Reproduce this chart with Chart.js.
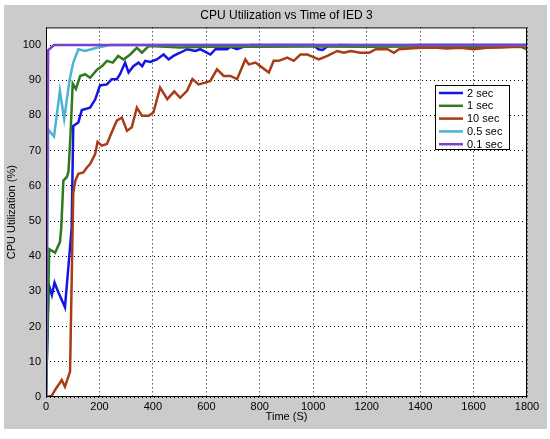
<!DOCTYPE html>
<html>
<head>
<meta charset="utf-8">
<title>CPU Utilization vs Time of IED 3</title>
<script src="https://cdn.jsdelivr.net/npm/chart.js@4.4.1/dist/chart.umd.min.js"></script>
<style>
  html, body { margin: 0; padding: 0; background: #ffffff; }
  canvas { display: block; }
</style>
</head>
<body>
<canvas id="cpuChart" width="550" height="439"></canvas>
<script>
// ── Axis ticks ────────────────────────────────────────
const X_TICKS = [0, 200, 400, 600, 800, 1000, 1200, 1400, 1600, 1800];
const Y_TICKS = [0, 10, 20, 30, 40, 50, 60, 70, 80, 90, 100];

// ── Series: 2 sec ─────────────────────────────────────
const T_2S = [0, 10, 22, 32, 45, 71, 96, 102, 121, 134, 165, 184, 202, 228, 246, 265, 277, 296, 309, 327, 346,
  360, 371, 390, 415, 440, 459, 477, 502, 528, 559, 577, 615, 634, 678, 690, 715, 746, 765, 900, 1000, 1020,
  1035, 1055, 1100, 1250, 1400, 1600, 1800];
const U_2S = [0, 32, 29, 32.5, 30, 25.5, 48, 77, 78, 81.5, 82.2, 84.5, 88.5, 88.8, 90.3, 90.3, 91.7, 95, 92.2, 94, 95,
  94, 95.5, 95.2, 95.9, 97.3, 95.9, 96.9, 97.8, 98.8, 98.3, 98.8, 97.3, 98.8, 98.8, 99.5, 98.8, 99.7, 100, 100, 100, 98.8,
  98.6, 99.7, 100, 99.8, 100, 100, 100];

// ── Series: 1 sec ─────────────────────────────────────
const T_1S = [0, 12, 34, 52, 57, 65, 78, 84, 92, 100, 112, 128, 146, 165, 191, 210, 228, 250, 270, 290, 315,
  340, 359, 384, 450, 500, 600, 700, 800, 1000, 1200, 1400, 1600, 1780, 1800];
const U_1S = [0, 42, 41, 44, 48, 61.5, 62.5, 64, 75, 89, 87.5, 91.2, 91.7, 90.7, 93, 94, 95.5, 95, 96.9, 95.9, 97.3,
  99.2, 97.8, 99.7, 99.5, 99.3, 99.5, 99.6, 99.5, 99.6, 99.5, 99.6, 99.5, 99.4, 98.8];

// ── Series: 10 sec ────────────────────────────────────
const T_10S = [0, 21, 34, 59, 71, 90, 102, 110, 121, 140, 153, 165, 184, 193, 209, 228, 246, 265, 284, 303, 321,
  340, 359, 384, 402, 427, 454, 480, 502, 528, 548, 571, 596, 615, 640, 665, 690, 715, 746, 759, 784, 802, 834,
  852, 871, 903, 927, 952, 978, 990, 1021, 1053, 1090, 1115, 1140, 1177, 1209, 1234, 1278, 1302, 1321, 1360,
  1400, 1450, 1500, 1550, 1600, 1650, 1700, 1750, 1780, 1800];
const U_10S = [0, 0.3, 2, 4.8, 2.9, 7.2, 58, 61.5, 63.4, 63.8, 65.2, 66.2, 69, 72.5, 71.4, 71.9, 75.2, 78.5, 79.4, 75.6, 76.6,
  82.2, 79.9, 79.9, 80.8, 87.9, 84.6, 86.8, 85, 87, 90.3, 88.8, 89.3, 89.8, 93.1, 91.2, 91.2, 90.3, 95.9, 94.5, 95, 94, 92.2,
  95.5, 95.5, 96.4, 95.5, 97.3, 97.3, 96.9, 95.9, 96.9, 98.3, 97.8, 98.3, 97.8, 97.8, 98.8, 98.8, 97.8, 98.8, 99,
  99.2, 99.3, 99, 99.2, 98.8, 99.2, 99.3, 99.5, 99.8, 98.8];

// ── Series: 0.5 sec ───────────────────────────────────
const T_05S = [0, 8, 30, 52, 68, 88, 102, 121, 146, 190, 240, 600, 1000, 1400, 1800];
const U_05S = [0, 76, 74, 87, 79, 90, 95, 98.8, 98.3, 99.2, 100, 100, 100, 100, 100];

// ── Series: 0.1 sec ───────────────────────────────────
const T_01S = [0, 8, 30, 600, 1200, 1800];
const U_01S = [0, 98.5, 100, 100, 100, 100];

// ── Colours ───────────────────────────────────────────
const COLORS = {
  blue:   '#1414e6',
  green:  '#2e7a1c',
  red:    '#a83c14',
  cyan:   '#4cb4d2',
  purple: '#7c40cc',
  fig:    '#cbcbcb',
};

function toPoints(ts, us) {
  return ts.map((t, i) => ({ x: t, y: us[i] }));
}

function series(label, ts, us, color, order) {
  return {
    label,
    data: toPoints(ts, us),
    borderColor: color,
    backgroundColor: color,
    borderWidth: 2.5,
    pointRadius: 0,
    tension: 0,
    fill: false,
    order,
  };
}

// ── Figure background + axes frame ────────────────────
const figurePlugin = {
  id: 'figure',
  beforeDraw(chart) {
    const { ctx, chartArea: a } = chart;
    ctx.save();
    ctx.fillStyle = '#ffffff';
    ctx.fillRect(0, 0, chart.width, chart.height);
    ctx.fillStyle = COLORS.fig;
    ctx.fillRect(4, 5, 543, 424);
    ctx.fillStyle = '#ffffff';
    ctx.fillRect(a.left, a.top, a.right - a.left, a.bottom - a.top);
    ctx.restore();
  },
  afterDatasetsDraw(chart) {
    const { ctx, chartArea: a } = chart;
    ctx.save();
    ctx.strokeStyle = '#000000';
    ctx.lineWidth = 1;
    ctx.strokeRect(a.left + 0.5, a.top + 0.5, a.right - a.left - 1, a.bottom - a.top - 1);
    ctx.restore();
  },
};

// ── Boxed legend inside the axes ──────────────────────
const boxLegendPlugin = {
  id: 'boxLegend',
  afterDraw(chart) {
    const { ctx } = chart;
    const x = 435, y = 85, w = 74, h = 64, rowH = 12.8;
    ctx.save();
    ctx.fillStyle = '#ffffff';
    ctx.fillRect(x, y, w, h);
    ctx.strokeStyle = '#000000';
    ctx.lineWidth = 1;
    ctx.strokeRect(x + 0.5, y + 0.5, w, h);
    ctx.font = "11px 'Liberation Sans', Arial, sans-serif";
    ctx.textBaseline = 'middle';
    chart.data.datasets.forEach((ds, i) => {
      const ly = y + 8 + i * rowH;
      ctx.strokeStyle = ds.borderColor;
      ctx.lineWidth = 2.5;
      ctx.beginPath();
      ctx.moveTo(x + 4, ly);
      ctx.lineTo(x + 28, ly);
      ctx.stroke();
      ctx.fillStyle = '#000000';
      ctx.fillText(ds.label, x + 32, ly + 0.5);
    });
    ctx.restore();
  },
};

const FONT = { family: "'Liberation Sans', Arial, sans-serif", size: 11 };

new Chart(document.getElementById('cpuChart'), {
  type: 'line',
  data: {
    datasets: [
      series('2 sec',   T_2S,  U_2S,  COLORS.blue,   4),
      series('1 sec',   T_1S,  U_1S,  COLORS.green,  3),
      series('10 sec',  T_10S, U_10S, COLORS.red,    2),
      series('0.5 sec', T_05S, U_05S, COLORS.cyan,   1),
      series('0.1 sec', T_01S, U_01S, COLORS.purple, 0),
    ],
  },
  options: {
    responsive: false,
    animation: false,
    layout: { padding: { left: 4, right: 23, top: 0, bottom: 15 } },
    plugins: {
      legend: { display: false },
      tooltip: { enabled: false },
      title: {
        display: true,
        text: 'CPU Utilization vs Time of IED 3',
        fullSize: false,
        color: '#000000',
        font: { ...FONT, size: 12, weight: 'normal' },
        padding: { top: 8, bottom: 5 },
      },
    },
    scales: {
      x: {
        type: 'linear',
        min: 0,
        max: 1800,
        afterBuildTicks: (s) => { s.ticks = X_TICKS.map(v => ({ value: v })); },
        afterFit: (s) => { s.height = 27; },
        ticks: { color: '#000000', font: FONT, padding: 3, maxRotation: 0, callback: (v) => String(v) },
        grid: { color: '#000000', lineWidth: 1, drawTicks: false },
        border: { display: false, dash: [1, 3] },
        title: { display: true, text: 'Time (S)', color: '#000000', font: FONT, padding: { top: 0, bottom: 0 } },
      },
      y: {
        min: 0,
        max: 105,
        afterBuildTicks: (s) => { s.ticks = Y_TICKS.map(v => ({ value: v })); },
        afterFit: (s) => { s.width = 42; },
        ticks: { color: '#000000', font: FONT, padding: 5, callback: (v) => String(v) },
        grid: { color: '#000000', lineWidth: 1, drawTicks: false },
        border: { display: false, dash: [1, 3] },
        title: { display: true, text: 'CPU Utilization (%)', color: '#000000', font: FONT, padding: { top: 1, bottom: 0 } },
      },
    },
  },
  plugins: [figurePlugin, boxLegendPlugin],
});
</script>
</body>
</html>
